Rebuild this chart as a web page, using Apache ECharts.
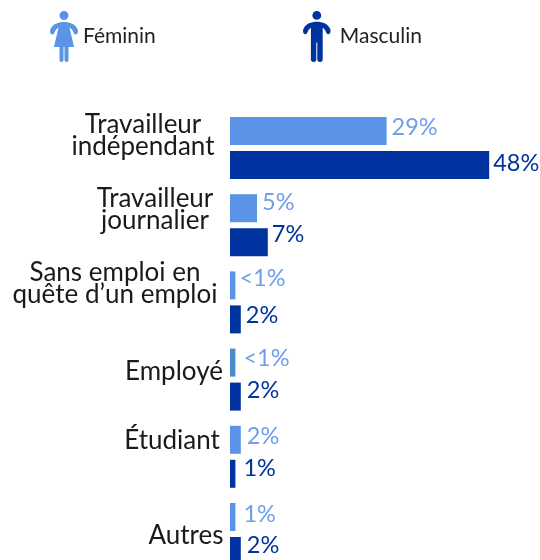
<!DOCTYPE html>
<html><head><meta charset="utf-8">
<style>html,body{margin:0;padding:0;background:#fff}#c{width:540px;height:560px}</style>
<script src="https://cdn.jsdelivr.net/npm/echarts@6/dist/echarts.min.js"></script>
</head><body><div id="c"></div>
<script>
const categories = ['Travailleur\nindépendant','Travailleur\njournalier','Sans emploi en\nquête d’un emploi','Employé','Étudiant','Autres'];
const feminin = [29,5,1,1,2,1];
const masculin = [48,7,2,2,1,2];
const femininLabels = ['29%','5%','<1%','<1%','2%','1%'];
const masculinLabels = ['48%','7%','2%','2%','1%','2%'];

// layout only: label centre x, top offset from the band centre, and value-label nudges
const catCentreX = [143,155,115,174,172,186];
const catTopOffset = [-34,-38,-41,-19,-27,-9];
const femOffset = [[5,-4],[5,-6],[4,-7],[8,-4],[6,-3],[8,-3]];
const masOffset = [[4,-2],[4,-8],[5,-4],[6,-6],[8,-5],[6,-6]];
const femColors = ['#5b93e6','#5b93e6','#5b93e6','#4b8bc9','#5b93e6','#5b93e6'];
const FEM = '#5b93e6', MAS = '#0033a0';
const font = 'Lato';

const head = 'M14 0a4.5 4.5 0 1 1 0 9a4.5 4.5 0 1 1 0 -9z';
const femIcon = 'path://'+head+'M14 11C20 11 25 13 27.5 18C28.5 20.5 28 23 26 23.5C24.5 24 23.5 22 23 20.5C22 18.5 20.5 17 19.5 16.5L24 36L18.5 36L18.5 49a2 2 0 0 1 -4 0L14.5 36L13.5 36L13.5 49a2 2 0 0 1 -4 0L9.5 36L4 36L8.5 16.5C7.5 17 6 18.5 5 20.5C4.5 22 3.5 24 2 23.5C0 23 -0.5 20.5 0.5 18C3 13 8 11 14 11z';
const masIcon = 'path://'+head+'M14 11C20 11 25 13 27.5 18C28.5 20.5 28 23 26 23.5C24.5 24 23.5 22 23 20.5C22 18.5 21 17.5 20 17L20 49a2.5 2.5 0 0 1 -5.5 0L14.5 32L13.5 32L13.5 49a2.5 2.5 0 0 1 -5.5 0L8 17C7 17.5 6 18.5 5 20.5C4.5 22 3.5 24 2 23.5C0 23 -0.5 20.5 0.5 18C3 13 8 11 14 11z';

function valueData(values, labels, offsets, colors, labelColor){
  return values.map((v,i)=>({
    value:v,
    itemStyle: colors ? {color:colors[i]} : undefined,
    label:{show:true,position:'right',distance:0,offset:offsets[i],formatter:labels[i],
      color:labelColor,fontFamily:font,fontSize:23.5,fontWeight:400}
  }));
}

const chart = echarts.init(document.getElementById('c'),null,{renderer:'canvas'});
chart.setOption({
  animation:false,
  backgroundColor:'#fff',
  legend:[
    {left:50,top:11,padding:0,itemWidth:28,itemHeight:51,itemGap:0,icon:femIcon,selectedMode:false,
     data:['Féminin'],textStyle:{fontFamily:font,fontSize:21,color:'#222',padding:[0,0,2,0]}},
    {left:303,top:11,padding:0,itemWidth:28,itemHeight:51,itemGap:0,icon:masIcon,selectedMode:false,
     data:['Masculin'],textStyle:{fontFamily:font,fontSize:21,color:'#222',padding:[0,0,2,4]}}
  ],
  grid:{left:230,top:109.4,width:310,height:463.2,containLabel:false,outerBoundsMode:'none'},
  xAxis:{type:'value',min:0,max:310/5.4,show:false},
  yAxis:{type:'category',inverse:true,
    axisLine:{show:false},axisTick:{show:false},splitLine:{show:false},
    axisLabel:{margin:0,interval:0,hideOverlap:false,color:'#1a1a1a',fontFamily:font,fontSize:26,lineHeight:22},
    data:categories.map((c,i)=>({value:c,textStyle:{align:'center',verticalAlign:'top',
      padding:[catTopOffset[i],2*(230-catCentreX[i]),0,0]}}))
  },
  series:[
    {name:'Féminin',type:'bar',barWidth:28,barGap:'21.4%',itemStyle:{color:FEM},
     data:valueData(feminin,femininLabels,femOffset,femColors,'#6f9fea')},
    {name:'Masculin',type:'bar',barWidth:28,barGap:'21.4%',itemStyle:{color:MAS},
     data:valueData(masculin,masculinLabels,masOffset,null,MAS)}
  ]
});
</script></body></html>
